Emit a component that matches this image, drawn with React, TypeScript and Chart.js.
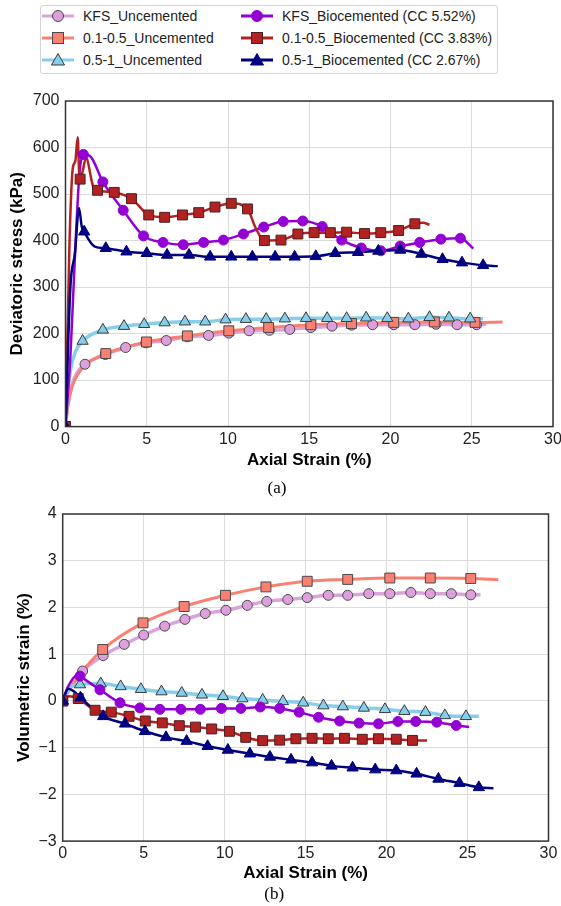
import React, { useEffect, useRef } from 'react';
import { Chart, registerables } from 'chart.js';
Chart.register(...registerables);

type P = [number, number];

const FONT = "'Liberation Sans', Arial, Helvetica, sans-serif";

const seriesNames = [
  'KFS_Uncemented',
  '0.1-0.5_Uncemented',
  '0.5-1_Uncemented',
  'KFS_Biocemented (CC 5.52%)',
  '0.1-0.5_Biocemented (CC 3.83%)',
  '0.5-1_Biocemented (CC 2.67%)',
];

const xTitle = 'Axial Strain (%)';
const yTitleA = 'Deviatoric stress (kPa)';
const yTitleB = 'Volumetric strain (%)';
const panelA = '(a)';
const panelB = '(b)';

// ---------- (a) Deviatoric stress (kPa) vs axial strain (%) ----------
const kfsUncStressMarks: P[] = [[0, 0], [1.2, 134], [2.45, 155], [3.7, 170], [4.95, 180], [6.2, 185], [7.5, 193], [8.8, 196], [10.05, 201], [11.3, 206], [12.55, 207], [13.8, 209], [15.1, 213], [16.4, 216], [17.6, 218], [18.9, 219], [20.2, 219], [21.5, 219], [22.8, 220], [24.1, 219], [25.3, 219]];
const kfsUncStressExtra: P[] = [[0.15, 50], [0.35, 85], [0.7, 115], [25.9, 220]];

const f105UncStressMarks: P[] = [[0, 0], [2.48, 157], [4.98, 182], [7.5, 195], [10.05, 206], [12.5, 213], [15.1, 219], [17.6, 221.6], [20.2, 224], [22.7, 225], [25.2, 224]];
const f105UncStressExtra: P[] = [[0.15, 45], [0.4, 85], [0.8, 115], [1.3, 135], [26.9, 225]];

const f051UncStressMarks: P[] = [[0, 0], [1.05, 184], [2.3, 208], [3.6, 216], [4.84, 220], [6.1, 223.7], [7.35, 225.5], [8.6, 225.5], [9.85, 230], [11.1, 231], [12.35, 231], [13.5, 232], [14.8, 233], [16.1, 233], [17.3, 233], [18.5, 234], [19.8, 233], [21.1, 232], [22.4, 235], [23.6, 234], [24.9, 232]];
const f051UncStressExtra: P[] = [[0.1, 60], [0.3, 120], [0.6, 160], [25.7, 232]];

const kfsBioStressMarks: P[] = [[0, 0], [1.1, 585], [2.3, 526], [3.55, 465], [4.8, 410], [6.0, 396], [7.25, 391], [8.5, 396], [9.72, 401], [10.95, 414], [12.2, 429], [13.4, 441], [14.6, 442], [15.8, 430], [17.0, 401], [18.2, 384], [19.4, 378], [20.6, 388], [21.8, 396], [23.1, 403], [24.3, 405]];
const kfsBioStressExtra: P[] = [[0.3, 150], [0.6, 380], [0.85, 540], [1.5, 582], [25.1, 383]];

const f105BioStressMarks: P[] = [[0, 0], [0.9, 532], [1.97, 508], [3.0, 503.5], [4.06, 490], [5.12, 455], [6.1, 450], [7.2, 455], [8.2, 460], [9.2, 472], [10.2, 480], [11.2, 468], [12.24, 400], [13.26, 401], [14.3, 414], [15.3, 417], [16.3, 417], [17.3, 418], [18.4, 415], [19.4, 417], [20.5, 421.5], [21.5, 436]];
const f105BioStressExtra: P[] = [[0.25, 400], [0.45, 556], [0.6, 570], [0.75, 622], [0.84, 545], [1.05, 548], [1.26, 578], [1.7, 516], [11.7, 427], [22.0, 438], [22.4, 434]];

const f051BioStressMarks: P[] = [[0, 0], [1.15, 419], [2.48, 383.5], [3.75, 376], [5.0, 372.7], [6.25, 369], [7.6, 369], [8.9, 365], [10.2, 365], [11.5, 365], [12.9, 365], [14.1, 365], [15.4, 366], [16.6, 372.7], [18.0, 374.8], [19.25, 377.6], [20.6, 379.8], [21.9, 371], [23.2, 359.7], [24.4, 352.5], [25.7, 346.8]];
const f051BioStressExtra: P[] = [[0.3, 300], [0.58, 373], [0.83, 470], [1.0, 430], [1.8, 387], [26.6, 345]];

// ---------- (b) Volumetric strain (%) vs axial strain (%) ----------
const kfsUncVolMarks: P[] = [[0, 0], [1.23, 0.64], [2.5, 0.97], [3.8, 1.21], [5.0, 1.41], [6.3, 1.6], [7.55, 1.745], [8.8, 1.87], [10.08, 1.94], [11.4, 2.045], [12.6, 2.13], [13.9, 2.17], [15.1, 2.21], [16.4, 2.26], [17.6, 2.26], [18.9, 2.295], [20.2, 2.295], [21.5, 2.32], [22.7, 2.295], [24.0, 2.295], [25.2, 2.27]];
const kfsUncVolExtra: P[] = [[0.5, 0.3], [25.8, 2.27]];

const f105UncVolMarks: P[] = [[0, 0], [2.47, 1.1], [4.96, 1.67], [7.5, 2.02], [10.05, 2.26], [12.55, 2.44], [15.1, 2.56], [17.6, 2.6], [20.2, 2.63], [22.7, 2.63], [25.2, 2.62]];
const f105UncVolExtra: P[] = [[0.6, 0.33], [1.23, 0.64], [26.9, 2.595]];

const f051UncVolMarks: P[] = [[0, 0], [1.07, 0.35], [2.35, 0.37], [3.58, 0.31], [4.83, 0.25], [6.1, 0.2], [7.35, 0.17], [8.6, 0.13], [9.9, 0.1], [11.1, 0.05], [12.35, 0.02], [13.6, -0.01], [14.85, -0.04], [16.1, -0.1], [17.3, -0.12], [18.6, -0.15], [19.9, -0.18], [21.1, -0.22], [22.4, -0.24], [23.6, -0.31], [24.9, -0.33]];
const f051UncVolExtra: P[] = [[0.5, 0.3], [25.7, -0.33]];

const kfsBioVolMarks: P[] = [[0, 0], [1.07, 0.53], [2.3, 0.24], [3.54, -0.04], [4.77, -0.15], [6.0, -0.18], [7.3, -0.18], [8.5, -0.18], [9.8, -0.16], [11.0, -0.16], [12.2, -0.13], [13.4, -0.16], [14.6, -0.24], [15.8, -0.35], [17.1, -0.43], [18.3, -0.475], [19.5, -0.49], [20.7, -0.44], [21.8, -0.44], [23.1, -0.455], [24.3, -0.525]];
const kfsBioVolExtra: P[] = [[0.25, 0.25], [0.95, 0.56], [25.1, -0.56]];

const f105BioVolMarks: P[] = [[0, 0], [0.96, 0.05], [2.0, -0.2], [3.0, -0.24], [4.1, -0.33], [5.1, -0.43], [6.15, -0.47], [7.2, -0.53], [8.2, -0.56], [9.2, -0.6], [10.3, -0.65], [11.3, -0.78], [12.35, -0.85], [13.4, -0.84], [14.4, -0.81], [15.4, -0.8], [16.4, -0.81], [17.4, -0.8], [18.5, -0.82], [19.5, -0.81], [20.6, -0.82], [21.6, -0.845]];
const f105BioVolExtra: P[] = [[0.4, 0.1], [22.5, -0.845]];

const f051BioVolMarks: P[] = [[0, 0], [1.1, 0.07], [2.5, -0.33], [3.85, -0.49], [5.08, -0.65], [6.38, -0.78], [7.65, -0.86], [8.95, -0.97], [10.2, -1.05], [11.56, -1.13], [12.8, -1.2], [14.1, -1.26], [15.4, -1.32], [16.6, -1.39], [17.9, -1.43], [19.3, -1.47], [20.6, -1.49], [21.85, -1.56], [23.2, -1.67], [24.5, -1.76], [25.7, -1.85]];
const f051BioVolExtra: P[] = [[0.35, 0.26], [0.7, 0.2], [26.6, -1.87]];

// ---------- styles ----------
type S = { line: string; fill: string; edge: string; shape: string; r: number; lw: number };
const STYLES: S[] = [
  { line: '#DBA2DE', fill: '#DDA0DD', edge: '#4a4a4a', shape: 'circle', r: 5, lw: 3.5 },
  { line: '#FA8072', fill: '#FA8072', edge: '#4a4a4a', shape: 'rect', r: 7, lw: 3 },
  { line: '#87CEEB', fill: '#87CEEB', edge: '#3a3a3a', shape: 'triangle', r: 6.5, lw: 3.5 },
  { line: '#9400D3', fill: '#9400D3', edge: '#9400D3', shape: 'circle', r: 5, lw: 2.5 },
  { line: '#B22222', fill: '#B22222', edge: '#4a2020', shape: 'rect', r: 7, lw: 2.5 },
  { line: '#000080', fill: '#000080', edge: '#000080', shape: 'triangle', r: 6.5, lw: 2.5 },
];

const toXY = (pts: P[]) => pts.map(([x, y]) => ({ x, y }));

function buildDatasets(marks: P[][], extras: P[][]) {
  const ds: any[] = [];
  STYLES.forEach((s, i) => {
    const line = [...marks[i], ...extras[i]].sort((a, b) => a[0] - b[0]);
    ds.push({
      label: seriesNames[i] + ' curve',
      data: toXY(line),
      showLine: true,
      borderColor: s.line,
      backgroundColor: s.line,
      borderWidth: s.lw,
      pointRadius: 0,
      cubicInterpolationMode: 'monotone',
      fill: false,
      order: 20 - i,
    });
    ds.push({
      label: seriesNames[i],
      data: toXY(marks[i]),
      showLine: false,
      pointStyle: s.shape,
      pointRadius: s.r,
      pointBackgroundColor: s.fill,
      pointBorderColor: s.edge,
      pointBorderWidth: 1,
      order: 10 - i,
    });
  });
  return ds;
}

const framePlugin = {
  id: 'frame',
  afterDraw(chart: any) {
    const { ctx, chartArea: a } = chart;
    ctx.save();
    ctx.strokeStyle = '#333333';
    ctx.lineWidth = 1.5;
    ctx.strokeRect(a.left, a.top, a.right - a.left, a.bottom - a.top);
    ctx.restore();
  },
};

function makeOptions(cfg: {
  yMin: number; yMax: number; yStep: number; yTitle: string; yWidth: number; yTitlePad: number;
  xHeight: number; panel: string; panelPadTop: number; pad: { top: number; right: number; bottom: number; left: number };
}) {
  return {
    animation: false,
    responsive: false,
    layout: { padding: cfg.pad },
    plugins: {
      legend: { display: false },
      tooltip: { enabled: false },
      title: {
        display: true,
        text: cfg.panel,
        position: 'bottom',
        color: '#000',
        font: { family: "'Liberation Serif', 'Times New Roman', serif", size: 17, weight: 'normal' },
        padding: { top: cfg.panelPadTop, bottom: 0 },
      },
    },
    scales: {
      x: {
        type: 'linear',
        min: 0,
        max: 30,
        ticks: { stepSize: 5, padding: 3, color: '#222', font: { family: FONT, size: 16 }, maxRotation: 0 },
        grid: { color: '#dcdcdc', lineWidth: 1, drawTicks: false },
        border: { display: false },
        title: {
          display: true,
          text: xTitle,
          color: '#000',
          font: { family: FONT, size: 17, weight: 'bold' },
          padding: { top: 0, bottom: 0 },
        },
        afterFit: (s: any) => {
          s.height = cfg.xHeight;
          s.paddingLeft = 0;
          s.paddingRight = 0;
        },
      },
      y: {
        type: 'linear',
        min: cfg.yMin,
        max: cfg.yMax,
        ticks: {
          stepSize: cfg.yStep,
          padding: 6,
          color: '#222',
          font: { family: FONT, size: 16 },
          callback: (v: any) => String(v).replace('-', '\u2212'),
        },
        grid: { color: '#dcdcdc', lineWidth: 1, drawTicks: false },
        border: { display: false },
        title: {
          display: true,
          text: cfg.yTitle,
          color: '#000',
          font: { family: FONT, size: 17, weight: 'bold' },
          padding: { top: cfg.yTitlePad, bottom: 0 },
        },
        afterFit: (s: any) => {
          s.width = cfg.yWidth;
          s.paddingTop = 0;
          s.paddingBottom = 0;
        },
      },
    },
  };
}

function LegendMarker({ i }: { i: number }) {
  const s = STYLES[i];
  let shape: any;
  if (s.shape === 'circle') {
    shape = <circle cx={16} cy={9} r={5.5} fill={s.fill} stroke={s.edge} strokeWidth={1} />;
  } else if (s.shape === 'rect') {
    shape = <rect x={10.5} y={3.5} width={11} height={11} fill={s.fill} stroke={s.edge} strokeWidth={1} />;
  } else {
    shape = <polygon points="16,2.5 22.5,14 9.5,14" fill={s.fill} stroke={s.edge} strokeWidth={1} />;
  }
  return (
    <svg width={32} height={18} style={{ display: 'block' }}>
      <line x1={0} y1={9} x2={32} y2={9} stroke={s.line} strokeWidth={3} />
      {shape}
    </svg>
  );
}

function Legend() {
  const rowsY = [16, 38, 60];
  const items = seriesNames.map((name, i) => {
    const col = i < 3 ? 0 : 1;
    const row = i % 3;
    const mx = col === 0 ? 42 : 241;
    const tx = col === 0 ? 83 : 282;
    const cy = rowsY[row];
    return (
      <React.Fragment key={name}>
        <div style={{ position: 'absolute', left: mx, top: cy - 9 }}>
          <LegendMarker i={i} />
        </div>
        <div style={{ position: 'absolute', left: tx, top: cy - 9, height: 18, lineHeight: '18px', fontFamily: FONT, fontSize: 14, color: '#222', whiteSpace: 'nowrap' }}>
          {name}
        </div>
      </React.Fragment>
    );
  });
  return (
    <>
      <div style={{ position: 'absolute', left: 40, top: 5, width: 456, height: 67, border: '1px solid #d4d4d4', borderRadius: 3, background: '#fff' }} />
      {items}
    </>
  );
}

export default function App() {
  const refA = useRef<HTMLCanvasElement>(null);
  const refB = useRef<HTMLCanvasElement>(null);

  useEffect(() => {
    const chartA = new Chart(refA.current as HTMLCanvasElement, {
      type: 'scatter',
      data: {
        datasets: buildDatasets(
          [kfsUncStressMarks, f105UncStressMarks, f051UncStressMarks, kfsBioStressMarks, f105BioStressMarks, f051BioStressMarks],
          [kfsUncStressExtra, f105UncStressExtra, f051UncStressExtra, kfsBioStressExtra, f105BioStressExtra, f051BioStressExtra],
        ),
      },
      options: makeOptions({
        yMin: 0, yMax: 700, yStep: 100, yTitle: yTitleA, yWidth: 65.5, yTitlePad: 7,
        xHeight: 44, panel: panelA, panelPadTop: 8,
        pad: { top: 16, right: 7, bottom: 6, left: 0 },
      }) as any,
      plugins: [framePlugin],
    });
    const chartB = new Chart(refB.current as HTMLCanvasElement, {
      type: 'scatter',
      data: {
        datasets: buildDatasets(
          [kfsUncVolMarks, f105UncVolMarks, f051UncVolMarks, kfsBioVolMarks, f105BioVolMarks, f051BioVolMarks],
          [kfsUncVolExtra, f105UncVolExtra, f051UncVolExtra, kfsBioVolExtra, f105BioVolExtra, f051BioVolExtra],
        ),
      },
      options: makeOptions({
        yMin: -3, yMax: 4, yStep: 1, yTitle: yTitleB, yWidth: 62.7, yTitlePad: 14,
        xHeight: 42, panel: panelB, panelPadTop: 1,
        pad: { top: 14, right: 12.5, bottom: 1.5, left: 0 },
      }) as any,
      plugins: [framePlugin],
    });
    return () => {
      chartA.destroy();
      chartB.destroy();
    };
  }, []);

  return (
    <div style={{ position: 'absolute', left: 0, top: 0, width: 561, height: 906, background: '#fff', overflow: 'hidden' }}>
      <Legend />
      <canvas ref={refA} width={561} height={420} style={{ position: 'absolute', left: 0, top: 85, display: 'block' }} />
      <canvas ref={refB} width={561} height={406} style={{ position: 'absolute', left: 0, top: 500, display: 'block' }} />
    </div>
  );
}
